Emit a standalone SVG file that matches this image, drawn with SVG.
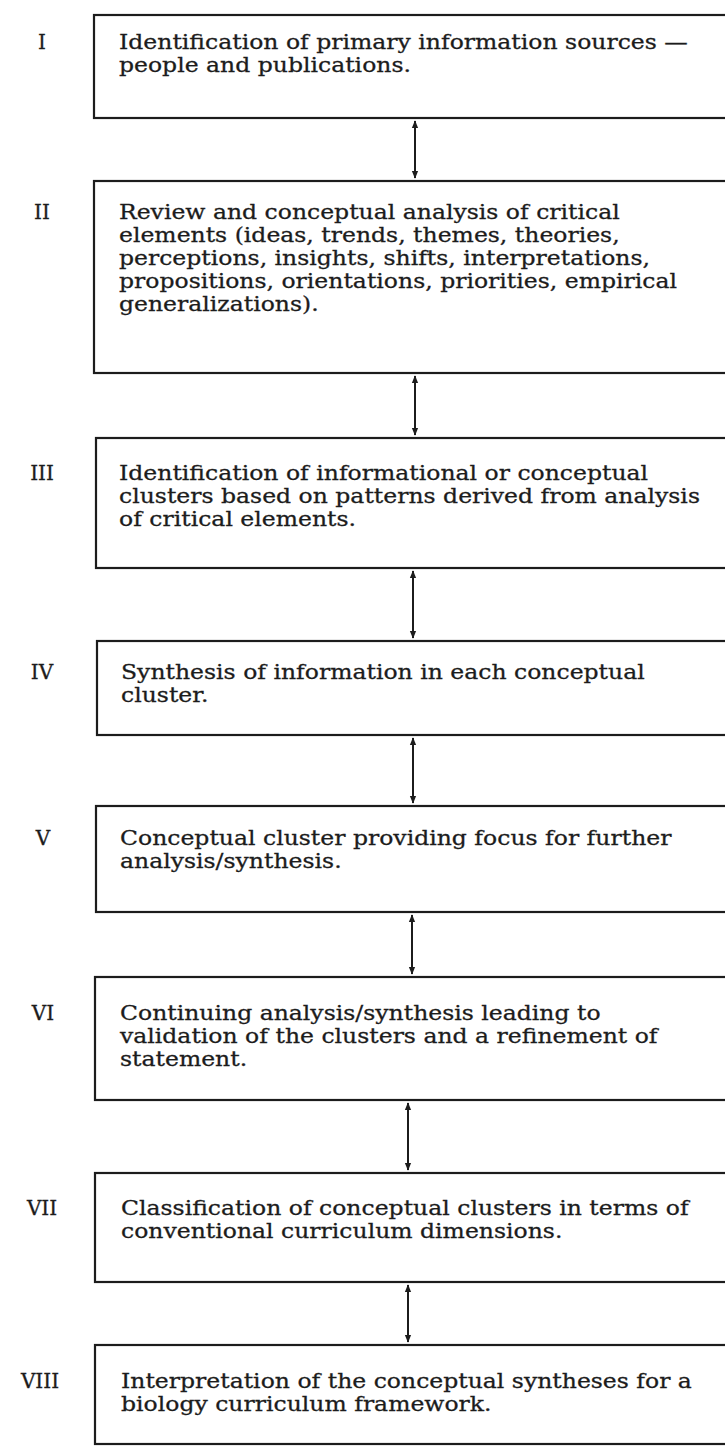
<svg xmlns="http://www.w3.org/2000/svg" width="725" height="1448" viewBox="0 0 725 1448">
  <style>
    .box { fill: #ffffff; stroke: #1c1c1c; stroke-width: 2.2; }
    .txt { font-family: "DejaVu Serif", "Liberation Serif", serif; font-size: 21px; fill: #1c1c1c; stroke: #1c1c1c; stroke-width: 0.3; }
    .num { font-family: "DejaVu Serif", "Liberation Serif", serif; font-size: 20px; fill: #1c1c1c; stroke: #1c1c1c; stroke-width: 0.3; text-anchor: middle; }
    .link { stroke: #1c1c1c; stroke-width: 2; fill: none; marker-start: url(#head); marker-end: url(#head); }
  </style>
  <defs>
    <marker id="head" viewBox="0 0 10 10" refX="9" refY="5" markerWidth="4" markerHeight="4" orient="auto-start-reverse">
      <path d="M0,1 L10,5 L0,9 Z" fill="#1c1c1c"/>
    </marker>
  </defs>
  <rect width="725" height="1448" fill="#ffffff"/>

  <g id="connectors">
    <line class="link" x1="415" y1="121" x2="415" y2="178"/>
    <line class="link" x1="415" y1="376" x2="415" y2="435"/>
    <line class="link" x1="413" y1="571" x2="413" y2="638"/>
    <line class="link" x1="413" y1="738" x2="413" y2="803"/>
    <line class="link" x1="412" y1="915" x2="412" y2="974"/>
    <line class="link" x1="408" y1="1103" x2="408" y2="1170"/>
    <line class="link" x1="408" y1="1285" x2="408" y2="1342"/>
  </g>

  <g id="step-1">
    <rect class="box" x="94" y="15" width="650" height="103"/>
    <text class="num" x="42" y="49">I</text>
    <g transform="translate(119 0) scale(1.12 1)">
      <text class="txt" x="0" y="49">Identification of primary information sources —</text>
      <text class="txt" x="0" y="72">people and publications.</text>
    </g>
  </g>

  <g id="step-2">
    <rect class="box" x="94" y="181" width="650" height="192"/>
    <text class="num" x="42" y="219">II</text>
    <g transform="translate(119 0) scale(1.12 1)">
      <text class="txt" x="0" y="219">Review and conceptual analysis of critical</text>
      <text class="txt" x="0" y="242">elements (ideas, trends, themes, theories,</text>
      <text class="txt" x="0" y="265">perceptions, insights, shifts, interpretations,</text>
      <text class="txt" x="0" y="288">propositions, orientations, priorities, empirical</text>
      <text class="txt" x="0" y="311">generalizations).</text>
    </g>
  </g>

  <g id="step-3">
    <rect class="box" x="96" y="438" width="650" height="130"/>
    <text class="num" x="42" y="480">III</text>
    <g transform="translate(119 0) scale(1.12 1)">
      <text class="txt" x="0" y="480">Identification of informational or conceptual</text>
      <text class="txt" x="0" y="503">clusters based on patterns derived from analysis</text>
      <text class="txt" x="0" y="526">of critical elements.</text>
    </g>
  </g>

  <g id="step-4">
    <rect class="box" x="97" y="641" width="650" height="94"/>
    <text class="num" x="42" y="679">IV</text>
    <g transform="translate(121 0) scale(1.12 1)">
      <text class="txt" x="0" y="679">Synthesis of information in each conceptual</text>
      <text class="txt" x="0" y="702">cluster.</text>
    </g>
  </g>

  <g id="step-5">
    <rect class="box" x="96" y="806" width="650" height="106"/>
    <text class="num" x="43" y="845">V</text>
    <g transform="translate(120 0) scale(1.12 1)">
      <text class="txt" x="0" y="845">Conceptual cluster providing focus for further</text>
      <text class="txt" x="0" y="868">analysis/synthesis.</text>
    </g>
  </g>

  <g id="step-6">
    <rect class="box" x="95" y="977" width="650" height="123"/>
    <text class="num" x="43" y="1020">VI</text>
    <g transform="translate(120 0) scale(1.12 1)">
      <text class="txt" x="0" y="1020">Continuing analysis/synthesis leading to</text>
      <text class="txt" x="0" y="1043">validation of the clusters and a refinement of</text>
      <text class="txt" x="0" y="1066">statement.</text>
    </g>
  </g>

  <g id="step-7">
    <rect class="box" x="95" y="1173" width="650" height="109"/>
    <text class="num" x="42" y="1215">VII</text>
    <g transform="translate(121 0) scale(1.12 1)">
      <text class="txt" x="0" y="1215">Classification of conceptual clusters in terms of</text>
      <text class="txt" x="0" y="1238">conventional curriculum dimensions.</text>
    </g>
  </g>

  <g id="step-8">
    <rect class="box" x="95" y="1345" width="650" height="99"/>
    <text class="num" x="40" y="1388">VIII</text>
    <g transform="translate(121 0) scale(1.12 1)">
      <text class="txt" x="0" y="1388">Interpretation of the conceptual syntheses for a</text>
      <text class="txt" x="0" y="1411">biology curriculum framework.</text>
    </g>
  </g>
</svg>
